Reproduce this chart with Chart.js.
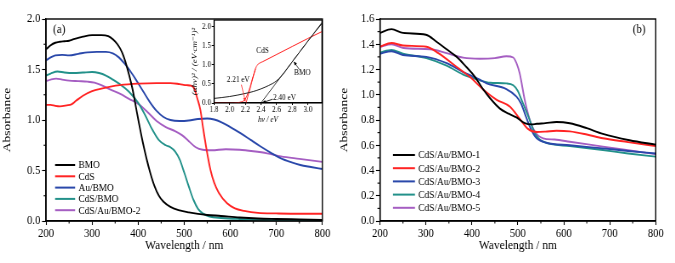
<!DOCTYPE html>
<html>
<head>
<meta charset="utf-8">
<script src="https://cdn.jsdelivr.net/npm/chart.js@4.4.0/dist/chart.umd.min.js"></script>
<style>
html, body { margin:0; padding:0; background:#fff; }
#wrap { position:relative; width:675px; height:263px; overflow:hidden; }
canvas { position:absolute; transform-origin:0 0; }
#ca { left:0; top:0; }
#cb { left:337px; top:0; }
#ci { left:190px; top:14px; }
</style>
</head>
<body>
<div id="wrap">
<canvas id="ca" height="263"></canvas>
<canvas id="cb" height="263"></canvas>
<canvas id="ci" height="111"></canvas>
</div>
<script>
// ---- panel (a) data ----
var bmoWl = [200,210,220,230,240,250,260,280,300,320,335,345,355,365,372,380,388,395,402,410,418,426,435,445,455,470,490,510,530,550,580,620,660,700,750,800];
var bmoAbs = [1.70,1.74,1.765,1.775,1.78,1.785,1.80,1.825,1.84,1.84,1.83,1.80,1.75,1.67,1.58,1.45,1.30,1.13,0.96,0.78,0.62,0.48,0.35,0.25,0.19,0.14,0.105,0.085,0.07,0.06,0.05,0.035,0.025,0.02,0.015,0.01];

var cdsWl = [200,210,220,230,245,255,265,280,300,320,340,360,400,440,470,490,505,515,522,528,535,541,548,557,565,575,593,610,630,660,700,750,800];
var cdsAbs = [1.15,1.15,1.14,1.135,1.145,1.155,1.19,1.24,1.285,1.31,1.33,1.345,1.36,1.365,1.365,1.355,1.345,1.34,1.31,1.22,1.10,0.92,0.72,0.505,0.38,0.28,0.175,0.125,0.10,0.08,0.075,0.072,0.072];

var auWl = [200,210,220,235,250,270,290,310,330,345,358,370,382,395,410,425,440,455,470,490,510,530,550,565,580,600,622,645,665,690,710,730,752,775,800];
var auAbs = [1.59,1.62,1.64,1.645,1.64,1.655,1.67,1.675,1.675,1.66,1.62,1.56,1.49,1.40,1.29,1.18,1.09,1.03,1.00,0.99,0.995,1.01,1.015,1.005,0.98,0.93,0.87,0.80,0.74,0.67,0.62,0.585,0.555,0.535,0.515];

var cdsBmoWl = [200,210,225,240,260,280,300,315,330,345,360,380,400,415,430,445,460,470,480,490,500,510,520,530,540,555,580,620,700,800];
var cdsBmoAbs = [1.44,1.46,1.48,1.47,1.465,1.47,1.475,1.465,1.44,1.40,1.355,1.28,1.17,1.05,0.91,0.80,0.75,0.73,0.69,0.61,0.48,0.34,0.21,0.12,0.075,0.045,0.03,0.02,0.012,0.008];

var cab2Wl = [200,210,222,235,250,270,290,305,320,340,360,380,400,420,440,460,480,495,510,525,540,560,590,620,650,680,710,750,800];
var cab2Abs = [1.385,1.40,1.41,1.40,1.39,1.385,1.38,1.37,1.345,1.30,1.26,1.21,1.16,1.08,0.99,0.93,0.89,0.85,0.79,0.73,0.705,0.70,0.71,0.705,0.69,0.67,0.64,0.615,0.585];

// ---- inset data (Tauc plot) ----
var tBmoEv = [1.8,2.0,2.2,2.3,2.4,2.5,2.6,2.7,2.8,2.9,3.0,3.1,3.18];
var tBmoVal = [0.12,0.17,0.25,0.30,0.37,0.46,0.58,0.80,1.08,1.35,1.62,1.88,2.08];
var tCdsEv = [1.8,2.0,2.1,2.15,2.2,2.25,2.3,2.34,2.38,2.42,2.6,2.8,3.0,3.18];
var tCdsVal = [0.0,0.0,0.01,0.03,0.10,0.35,0.70,0.95,1.04,1.08,1.27,1.48,1.69,1.87];
var tBmoFitEv = [2.40,3.18];
var tBmoFitVal = [0.0,2.11];
var tCdsFitEv = [2.21,2.33];
var tCdsFitVal = [0.0,0.90];

// ---- panel (b) data ----
var bWl1 = [200,225,250,300,323,345,367,388,405,425,440,461,480,497,515,530,541,560,584,613,650,685,743,800];
var bAbs1 = [1.49,1.52,1.49,1.475,1.42,1.36,1.30,1.22,1.15,1.04,0.97,0.89,0.85,0.82,0.775,0.765,0.77,0.775,0.784,0.774,0.735,0.69,0.64,0.605];
var bWl2 = [200,225,250,301,327,367,396,425,454,483,504,522,541,560,584,613,650,685,740,800];
var bAbs2 = [1.38,1.41,1.39,1.38,1.33,1.22,1.14,1.04,0.96,0.905,0.81,0.73,0.705,0.708,0.715,0.71,0.685,0.655,0.625,0.594];
var bWl3 = [200,225,250,301,345,381,417,432,475,497,507,515,526,534,541,562,613,685,740,800];
var bAbs3 = [1.325,1.345,1.315,1.30,1.25,1.18,1.12,1.09,1.045,0.985,0.93,0.853,0.747,0.69,0.655,0.62,0.60,0.575,0.555,0.535];
var bWl4 = [200,225,250,301,345,381,417,439,475,490,500,508,523,537,555,613,685,740,800];
var bAbs4 = [1.335,1.355,1.325,1.29,1.23,1.16,1.115,1.095,1.09,1.075,1.03,0.96,0.826,0.695,0.628,0.594,0.562,0.535,0.51];
var bWl5 = [200,225,251,309,345,381,417,450,475,490,497,504,515,526,537,555,580,613,685,740,800];
var bAbs5 = [1.38,1.40,1.37,1.36,1.33,1.294,1.285,1.29,1.305,1.295,1.25,1.17,0.958,0.80,0.707,0.655,0.645,0.628,0.589,0.56,0.53];

var cBlack = '#000000', cRed = '#ff2424', cBlue = '#2a48aa', cTeal = '#23918a', cPurple = '#a55ec2';
var serif = '"Liberation Serif", "DejaVu Serif", serif';

// the original figure is squeezed sideways, so draw wider and squeeze back
var K = 0.85;
function setup(id, w) {
	var el = document.getElementById(id);
	el.width = Math.round(w / K);
	el.style.transform = 'scaleX(' + (w / el.width) + ')';
	return el;
}

function pts(xs, ys) {
	return xs.map(function(x, i){ return {x: x, y: ys[i]}; });
}

function series(label, xs, ys, color) {
	return {
		label: label,
		data: pts(xs, ys),
		borderColor: color,
		backgroundColor: color,
		borderWidth: 1.9,
		pointRadius: 0,
		fill: false,
		cubicInterpolationMode: 'monotone'
	};
}

// frame round the plot and minor ticks
var boxPlugin = {
	id: 'box',
	afterDatasetsDraw: function(chart, args, opts) {
		var a = chart.chartArea, ctx = chart.ctx;
		ctx.save();
		ctx.strokeStyle = '#000';
		ctx.lineWidth = opts.lw || 1.4;
		ctx.strokeRect(a.left, a.top, a.right - a.left, a.bottom - a.top);
		ctx.lineWidth = 1.1;
		if (opts.xMinor) {
			opts.xMinor.forEach(function(v){
				var px = chart.scales.x.getPixelForValue(v);
				ctx.beginPath(); ctx.moveTo(px, a.bottom); ctx.lineTo(px, a.bottom + opts.minorLen); ctx.stroke();
			});
		}
		if (opts.yMinor) {
			opts.yMinor.forEach(function(v){
				var py = chart.scales.y.getPixelForValue(v);
				ctx.beginPath(); ctx.moveTo(a.left, py); ctx.lineTo(a.left - opts.minorLen / K, py); ctx.stroke();
			});
		}
		ctx.restore();
	}
};

// legend and panel tag
var keyPlugin = {
	id: 'key',
	afterDraw: function(chart, args, opts) {
		if (!opts.x) return;
		var ctx = chart.ctx;
		ctx.save();
		ctx.font = opts.font;
		ctx.textBaseline = 'middle';
		ctx.fillStyle = '#000';
		chart.data.datasets.forEach(function(ds, i){
			var y = opts.y + i * opts.gap;
			ctx.strokeStyle = ds.borderColor;
			ctx.lineWidth = 2;
			ctx.beginPath(); ctx.moveTo(opts.x, y); ctx.lineTo(opts.x + opts.len, y); ctx.stroke();
			ctx.fillText(ds.label, opts.x + opts.len + 4, y + 0.5);
		});
		ctx.font = opts.tagFont;
		ctx.fillText(opts.tag, opts.tagX, opts.tagY);
		ctx.restore();
	}
};

function mainOptions(yMax, yStep, yW, padR, key, yMinor) {
	return {
		responsive: false,
		animation: false,
		layout: { padding: { left: 0, right: padR, top: 19, bottom: 7 } },
		plugins: {
			legend: { display: false },
			tooltip: { enabled: false },
			box: { xMinor: [250,350,450,550,650,750], yMinor: yMinor, minorLen: 2.5 },
			key: key
		},
		scales: {
			x: {
				type: 'linear', min: 200, max: 800,
				ticks: { stepSize: 100, color: '#000', font: { family: serif, size: 12.5 }, padding: 1, maxRotation: 0 },
				grid: { drawOnChartArea: false, color: '#000', tickLength: 4, tickWidth: 1.1 },
				border: { color: '#000', width: 1.4 },
				title: { display: true, text: 'Wavelength / nm', color: '#000', font: { family: serif, size: 13.5 }, padding: { top: 0, bottom: 2 } },
				afterFit: function(s){ s.height = 35; }
			},
			y: {
				min: 0, max: yMax,
				ticks: { stepSize: yStep, color: '#000', font: { family: serif, size: 12.5 }, padding: 2,
					callback: function(v){ return v.toFixed(1); } },
				grid: { drawOnChartArea: false, color: '#000', tickLength: 4 / K, tickWidth: 1.1 },
				border: { color: '#000', width: 1.4 },
				title: { display: true, text: 'Absorbance', color: '#000', font: { family: serif, size: 13.5 }, padding: { top: 0, bottom: 2 } },
				afterFit: function(s){ s.width = yW; }
			}
		}
	};
}

var ca = setup('ca', 337);
new Chart(ca, {
	type: 'line',
	data: { datasets: [
		series('BMO', bmoWl, bmoAbs, cBlack),
		series('CdS', cdsWl, cdsAbs, cRed),
		series('Au/BMO', auWl, auAbs, cBlue),
		series('CdS/BMO', cdsBmoWl, cdsBmoAbs, cTeal),
		series('CdS/Au/BMO-2', cab2Wl, cab2Abs, cPurple)
	] },
	options: mainOptions(2.0, 0.5, 46 / K, ca.width - 322 / K,
		{ x: 55 / K, y: 165, gap: 11.3, len: 20 / K, font: '11px ' + serif, tag: '(a)', tagX: 53 / K, tagY: 30, tagFont: '13px ' + serif },
		[0.25,0.75,1.25,1.75]),
	plugins: [boxPlugin, keyPlugin]
});

var cb = setup('cb', 338);
new Chart(cb, {
	type: 'line',
	data: { datasets: [
		series('CdS/Au/BMO-1', bWl1, bAbs1, cBlack),
		series('CdS/Au/BMO-2', bWl2, bAbs2, cRed),
		series('CdS/Au/BMO-3', bWl3, bAbs3, cBlue),
		series('CdS/Au/BMO-4', bWl4, bAbs4, cTeal),
		series('CdS/Au/BMO-5', bWl5, bAbs5, cPurple)
	] },
	options: mainOptions(1.6, 0.2, 43 / K, cb.width - 319 / K,
		{ x: 56 / K, y: 155, gap: 13.2, len: 22 / K, font: '11px ' + serif, tag: '(b)', tagX: 296 / K, tagY: 30, tagFont: '13px ' + serif },
		[0.1,0.3,0.5,0.7,0.9,1.1,1.3,1.5]),
	plugins: [boxPlugin, keyPlugin]
});

// inset annotations, placed in data units
var noteLabels = [
	{ t: 'CdS', x: 2.42, y: 1.37 },
	{ t: 'BMO', x: 2.93, y: 0.78 },
	{ t: '2.21 eV', x: 2.11, y: 0.60 },
	{ t: '2.40 eV', x: 2.70, y: 0.13 }
];
var noteArrows = [
	{ x0: 2.15, y0: 0.48, x1: 2.20, y1: 0.04, c: cRed },
	{ x0: 2.55, y0: 0.10, x1: 2.42, y1: 0.01, c: '#000' },
	{ x0: 2.89, y0: 0.88, x1: 2.82, y1: 1.08, c: '#000' }
];
var notePlugin = {
	id: 'notes',
	afterDraw: function(chart) {
		var ctx = chart.ctx, sx = chart.scales.x, sy = chart.scales.y;
		ctx.save();
		ctx.font = '8.5px ' + serif;
		ctx.textAlign = 'center';
		ctx.textBaseline = 'middle';
		ctx.fillStyle = '#000';
		noteLabels.forEach(function(n){
			ctx.fillText(n.t, sx.getPixelForValue(n.x), sy.getPixelForValue(n.y));
		});
		noteArrows.forEach(function(n){
			var ax = sx.getPixelForValue(n.x0), ay = sy.getPixelForValue(n.y0);
			var bx = sx.getPixelForValue(n.x1), by = sy.getPixelForValue(n.y1);
			ctx.strokeStyle = n.c; ctx.fillStyle = n.c; ctx.lineWidth = 0.8;
			ctx.beginPath(); ctx.moveTo(ax, ay); ctx.lineTo(bx, by); ctx.stroke();
			var ang = Math.atan2(by - ay, bx - ax);
			ctx.beginPath();
			ctx.moveTo(bx, by);
			ctx.lineTo(bx - 4 * Math.cos(ang - 0.45), by - 4 * Math.sin(ang - 0.45));
			ctx.lineTo(bx - 4 * Math.cos(ang + 0.45), by - 4 * Math.sin(ang + 0.45));
			ctx.closePath(); ctx.fill();
		});
		ctx.restore();
	}
};

function thin(label, xs, ys, color, w) {
	var d = series(label, xs, ys, color);
	d.borderWidth = w;
	return d;
}

var ci = setup('ci', 136);
new Chart(ci, {
	type: 'line',
	data: { datasets: [
		thin('BMO', tBmoEv, tBmoVal, '#222', 1),
		thin('BMO fit', tBmoFitEv, tBmoFitVal, '#222', 0.9),
		thin('CdS', tCdsEv, tCdsVal, cRed, 1),
		thin('CdS fit', tCdsFitEv, tCdsFitVal, cRed, 0.9)
	] },
	options: {
		responsive: false,
		animation: false,
		layout: { padding: { left: 0, right: ci.width - 132 / K, top: 5, bottom: 0 } },
		plugins: { legend: { display: false }, tooltip: { enabled: false }, box: { lw: 1.1 } },
		scales: {
			x: {
				type: 'linear', min: 1.8, max: 3.18,
				afterBuildTicks: function(s){ s.ticks = [1.8,2.0,2.2,2.4,2.6,2.8,3.0].map(function(v){ return {value: v}; }); },
				ticks: { color: '#000', font: { family: serif, size: 8.5 }, padding: 0, maxRotation: 0,
					callback: function(v){ return v.toFixed(1); } },
				grid: { drawOnChartArea: false, color: '#000', tickLength: 2 },
				border: { color: '#000', width: 1.1 },
				title: { display: true, text: 'hν / eV', color: '#000', font: { family: serif, size: 8.5, style: 'italic' }, padding: { top: 0, bottom: 0 } },
				afterFit: function(s){ s.height = 22; }
			},
			y: {
				min: 0, max: 2.17,
				afterBuildTicks: function(s){ s.ticks = [0,0.5,1.0,1.5,2.0].map(function(v){ return {value: v}; }); },
				ticks: { color: '#000', font: { family: serif, size: 8.5 }, padding: 1,
					callback: function(v){ return v.toFixed(1); } },
				grid: { drawOnChartArea: false, color: '#000', tickLength: 2.5 },
				border: { color: '#000', width: 1.1 },
				title: { display: true, text: '(αhν)² / (eV·cm⁻¹)²', color: '#000', font: { family: serif, size: 9, style: 'italic' }, padding: { top: 0, bottom: 0 } },
				afterFit: function(s){ s.width = 24 / K; }
			}
		}
	},
	plugins: [boxPlugin, notePlugin]
});
</script>
</body>
</html>
